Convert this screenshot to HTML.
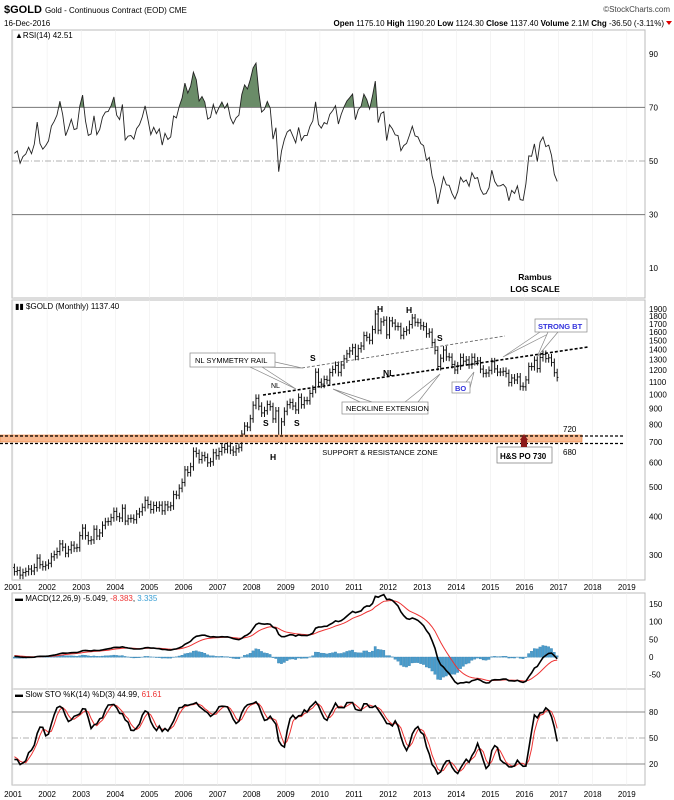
<!DOCTYPE html>
<html><head><meta charset="utf-8"><style>
body{margin:0;background:#fff}
svg{display:block;font-family:"Liberation Sans",sans-serif}
</style></head><body>
<svg id="c" width="674" height="800" viewBox="0 0 674 800">
<defs>
<clipPath id="rsiClip"><rect x="12" y="20" width="633" height="87"/></clipPath>
</defs>
<g id="hdr">
<text x="4" y="13" font-size="11" font-weight="bold">$GOLD <tspan font-size="8" font-weight="normal">Gold - Continuous Contract (EOD) CME</tspan></text>
<text x="4" y="26" font-size="8">16-Dec-2016</text>
<text x="670" y="12" font-size="8" text-anchor="end" fill="#444">©StockCharts.com</text>
<text x="664" y="26" font-size="8" text-anchor="end"><tspan font-weight="bold">Open</tspan> 1175.10 <tspan font-weight="bold">High</tspan> 1190.20 <tspan font-weight="bold">Low</tspan> 1124.30 <tspan font-weight="bold">Close</tspan> 1137.40 <tspan font-weight="bold">Volume</tspan> 2.1M <tspan font-weight="bold">Chg</tspan> -36.50 (-3.11%)</text>
<path d="M666 21 L672 21 L669 25 Z" fill="#d00"/>
</g>
<g id="frames" fill="none" stroke="#bbb" stroke-width="1">
<rect x="12" y="30" width="633" height="268"/>
<rect x="12" y="300" width="633" height="280"/>
<rect x="12" y="593" width="633" height="96"/>
<rect x="12" y="689" width="633" height="96"/>
</g>
<g id="layer"></g>
</svg>
<script>
// monthly closes, warmup Jul-1999..Dec-2000 then Jan-2001..Dec-2016
const warmupCloses=[255,254,299,300,292,288,289,293,278,274,272,288,283,277,273,264,269,273];
const closes=[265,267,258,263,265,270,266,273,293,279,275,278,
282,296,301,308,326,318,304,312,323,316,317,347,
367,347,334,336,364,346,354,375,385,386,397,416,
400,396,426,387,394,395,391,408,415,429,452,438,
422,435,428,436,418,437,430,434,472,470,495,517,
568,557,582,653,643,614,632,624,599,604,646,632,
652,672,663,679,659,650,666,673,743,789,783,834,
923,972,916,871,886,928,913,833,884,718,815,882,
927,942,917,891,979,927,955,955,1008,1040,1182,1096,
1081,1119,1113,1180,1207,1244,1181,1248,1307,1357,1387,1421,
1332,1411,1439,1556,1536,1502,1628,1829,1620,1725,1746,1565,
1738,1709,1668,1664,1560,1604,1622,1691,1776,1719,1713,1675,
1664,1578,1596,1476,1393,1234,1313,1396,1327,1323,1253,1202,
1240,1321,1284,1296,1250,1322,1282,1287,1210,1172,1175,1199,
1278,1212,1183,1184,1190,1172,1095,1132,1115,1141,1064,1060,
1116,1234,1233,1293,1215,1320,1351,1309,1317,1272,1178,1137];
const yearLabels=["2001","2002","2003","2004","2005","2006","2007","2008","2009","2010","2011","2012","2013","2014","2015","2016","2017","2018","2019"];
const priceTicks=[300,400,500,600,700,800,900,1000,1100,1200,1300,1400,1500,1600,1700,1800,1900];
const rsiTicks=[10,30,50,70,90];
const macdTicks=[-50,0,50,100,150];
const stoTicks=[20,50,80];

const NS="http://www.w3.org/2000/svg";
const layer=document.getElementById('layer');
function mk(tag,attrs,parent,txt){const e=document.createElementNS(NS,tag);for(const k in attrs)e.setAttribute(k,attrs[k]);if(txt!==undefined)e.textContent=txt;(parent||layer).appendChild(e);return e;}
const all=warmupCloses.concat(closes);const W=warmupCloses.length;
const xYear=t=>13+(t-2001)*34.1;
const xMonth=i=>xYear(2001+(i+0.5)/12);
const yPrice=p=>555-133.3*Math.log(p/300);
const yRsi=v=>161-(v-50)*2.68;
const yMacd=v=>657-0.353*v;
const yStoc=v=>712+(80-v)*0.867;

const opens=all.map((c,i)=>i?all[i-1]:c);
const highs=all.map((c,i)=>Math.max(c,opens[i])*1.03);
const lows=all.map((c,i)=>Math.min(c,opens[i])*0.97);
const rsi=[];let ag=0,al=0;
for(let i=1;i<all.length;i++){const d=all[i]-all[i-1];const g=Math.max(d,0),l=Math.max(-d,0);
 if(i<=14){ag+=g/14;al+=l/14;}else{ag=(ag*13+g)/14;al=(al*13+l)/14;}
 rsi[i]=al===0?100:100-100/(1+ag/al);}
function ema(arr,n){const k=2/(n+1);const o=[];arr.forEach((v,i)=>o[i]=i?v*k+o[i-1]*(1-k):v);return o;}
const e12=ema(all,12),e26=ema(all,26);const macd=all.map((v,i)=>e12[i]-e26[i]);const sig=ema(macd,9);
const raw=all.map((c,i)=>{const s=Math.max(0,i-13);const hh=Math.max(...highs.slice(s,i+1)),ll=Math.min(...lows.slice(s,i+1));return (c-ll)/(hh-ll)*100;});
const sma3=a=>a.map((v,i)=>(a[Math.max(0,i-2)]+a[Math.max(0,i-1)]+v)/3);
const kS=sma3(raw),dS=sma3(kS);

yearLabels.forEach((y,j)=>{const x=xYear(2001+j);
 const t1=mk('text',{x:x,y:590,'font-size':8,'text-anchor':'middle'},layer,y);
 
 
 const t2=mk('text',{x:x,y:797,'font-size':8,'text-anchor':'middle'},layer,y);
 
 
 [[300,580],[593,785],[30,298]].forEach(r=>mk('line',{x1:x,x2:x,y1:r[0],y2:r[1],stroke:'#eee','stroke-width':0.6}));
});
priceTicks.forEach(p=>{const t=mk('text',{x:649,y:yPrice(p)+3,'font-size':8},layer,p);
 
 });
rsiTicks.forEach(v=>{const t=mk('text',{x:649,y:yRsi(v)+3,'font-size':8},layer,v);
 
 });
macdTicks.forEach(v=>{const t=mk('text',{x:649,y:yMacd(v)+3,'font-size':8},layer,v);
 
 });
stoTicks.forEach(v=>{const t=mk('text',{x:649,y:yStoc(v)+3,'font-size':8},layer,v);
 
 });
mk('line',{x1:12,x2:645,y1:yRsi(70),y2:yRsi(70),stroke:'#777','stroke-width':1});
mk('line',{x1:12,x2:645,y1:yRsi(30),y2:yRsi(30),stroke:'#777','stroke-width':1});
mk('line',{x1:12,x2:645,y1:yRsi(50),y2:yRsi(50),stroke:'#999','stroke-width':0.8,'stroke-dasharray':'6 2 1 2'});
mk('line',{x1:12,x2:645,y1:yStoc(80),y2:yStoc(80),stroke:'#888','stroke-width':1});
mk('line',{x1:12,x2:645,y1:yStoc(20),y2:yStoc(20),stroke:'#888','stroke-width':1});
mk('line',{x1:12,x2:645,y1:yStoc(50),y2:yStoc(50),stroke:'#999','stroke-width':0.8,'stroke-dasharray':'6 2 1 2'});

let rp='';closes.forEach((c,i)=>{rp+=(i?'L':'M')+xMonth(i).toFixed(1)+' '+yRsi(rsi[W+i]).toFixed(1);});
const rf=mk('path',{d:rp+`L${xMonth(closes.length-1)} ${yRsi(70)}L${xMonth(0)} ${yRsi(70)}Z`,fill:'#6a8c68','clip-path':'url(#rsiClip)'});


const rl=mk('path',{d:rp,fill:'none',stroke:'#222','stroke-width':0.9});



closes.forEach((c,i)=>{const k=W+i,x=xMonth(i);const g=mk('g',{stroke:'#111','stroke-width':1});
 
 
 mk('line',{x1:x,x2:x,y1:yPrice(highs[k]),y2:yPrice(lows[k])},g);
 mk('line',{x1:x-1.3,x2:x,y1:yPrice(opens[k]),y2:yPrice(opens[k])},g);
 mk('line',{x1:x,x2:x+1.3,y1:yPrice(c),y2:yPrice(c)},g);});

closes.forEach((c,i)=>{const k=W+i,h=(macd[k]-sig[k])*1.0;const y0=yMacd(0),y1=yMacd(h);
 const r=mk('rect',{x:xMonth(i)-1.3,y:Math.min(y0,y1),width:2.4,height:Math.abs(y1-y0)+0.3,fill:'#4a9ccc',stroke:'#2a78a8','stroke-width':0.3});
 
 });
let mp='',sp='';closes.forEach((c,i)=>{const x=xMonth(i).toFixed(1);mp+=(i?'L':'M')+x+' '+yMacd(macd[W+i]).toFixed(1);sp+=(i?'L':'M')+x+' '+yMacd(sig[W+i]).toFixed(1);});
const ms=mk('path',{d:sp,fill:'none',stroke:'#e33','stroke-width':1});


const ml=mk('path',{d:mp,fill:'none',stroke:'#000','stroke-width':1.6});



let kp='',dp='';closes.forEach((c,i)=>{const x=xMonth(i).toFixed(1);kp+=(i?'L':'M')+x+' '+yStoc(kS[W+i]).toFixed(1);dp+=(i?'L':'M')+x+' '+yStoc(dS[W+i]).toFixed(1);});
const sd=mk('path',{d:dp,fill:'none',stroke:'#e33','stroke-width':1});


const sk=mk('path',{d:kp,fill:'none',stroke:'#000','stroke-width':1.6});


</script>
<script>
(function(){
const svg=document.getElementById('c');
svg.insertAdjacentHTML('beforeend',`
<g font-size="8">
<text x="15" y="38">▲RSI(14) 42.51</text>
<text x="15" y="309">▮▮ $GOLD (Monthly) 1137.40</text>
<text x="15" y="601">▬ MACD(12,26,9) -5.049, <tspan fill="#e33">-8.383</tspan>, <tspan fill="#3a9fd4">3.335</tspan></text>
<text x="15" y="697">▬ Slow STO %K(14) %D(3) 44.99, <tspan fill="#e33">61.61</tspan></text>
<text x="535" y="280" font-weight="bold" font-size="8.5" text-anchor="middle">Rambus</text>
<text x="535" y="292" font-weight="bold" font-size="8.5" text-anchor="middle">LOG SCALE</text>
</g>
<g>
<rect x="0" y="435" width="582" height="7" fill="#f7b78e" stroke="#e8803a" stroke-width="0.6"/>
<line x1="0" x2="624" y1="436" y2="436" stroke="#000" stroke-width="1.3" stroke-dasharray="3 2"/>
<line x1="0" x2="624" y1="443.5" y2="443.5" stroke="#000" stroke-width="1.3" stroke-dasharray="3 2"/>
<text x="563" y="432" font-size="8">720</text>
<text x="563" y="455" font-size="8">680</text>
<text x="380" y="455" font-size="7.5" text-anchor="middle">SUPPORT &amp; RESISTANCE ZONE</text>
<line x1="263" y1="395" x2="588" y2="347" stroke="#000" stroke-width="1.6" stroke-dasharray="3 2"/>
<line x1="302" y1="368" x2="505" y2="336" stroke="#555" stroke-width="0.8" stroke-dasharray="3 2"/>
<g fill="#fff" stroke="#888" stroke-width="0.7">
<path d="M262 367 L302 368 L275 362"/>
<path d="M250 367 L296 389 L262 367"/>
<rect x="190" y="353" width="85" height="14"/>
<path d="M360 402 L333 389 L372 402"/>
<path d="M405 402 L440 374 L418 402"/>
<rect x="342" y="402" width="86" height="12"/>
<path d="M466 382 L474 372 L470 388"/>
<rect x="452" y="382" width="18" height="11"/>
<path d="M540 332 L503 357 L552 332"/>
<path d="M548 332 L537 357 L558 332"/>
<rect x="535" y="319" width="52" height="13"/>
<rect x="497" y="447" width="55" height="16" stroke="#777"/>
</g>
<text x="195" y="363" font-size="7.5">NL SYMMETRY RAIL</text>
<text x="346" y="411" font-size="7.5">NECKLINE EXTENSION</text>
<text x="455" y="391" font-size="7.5" fill="#33d" font-weight="bold">BO</text>
<text x="538" y="329" font-size="7.5" fill="#33d" font-weight="bold">STRONG BT</text>
<text x="500" y="459" font-size="8" font-weight="bold">H&amp;S PO 730</text>
<path d="M520 440 L524 434 L528 440 Z M521 440 h6 v7 h-6 Z" fill="#8b1a1a"/>
<g font-size="8.5" font-weight="bold">
<text x="271" y="388" font-size="7" font-weight="normal">NL</text>
<text x="383" y="376">NL</text>
<text x="310" y="361">S</text>
<text x="263" y="426">S</text>
<text x="294" y="426">S</text>
<text x="437" y="341">S</text>
<text x="270" y="460">H</text>
<text x="377" y="312">H</text>
<text x="406" y="313">H</text>
</g>
</g>`);
})();
</script>
</body></html>
